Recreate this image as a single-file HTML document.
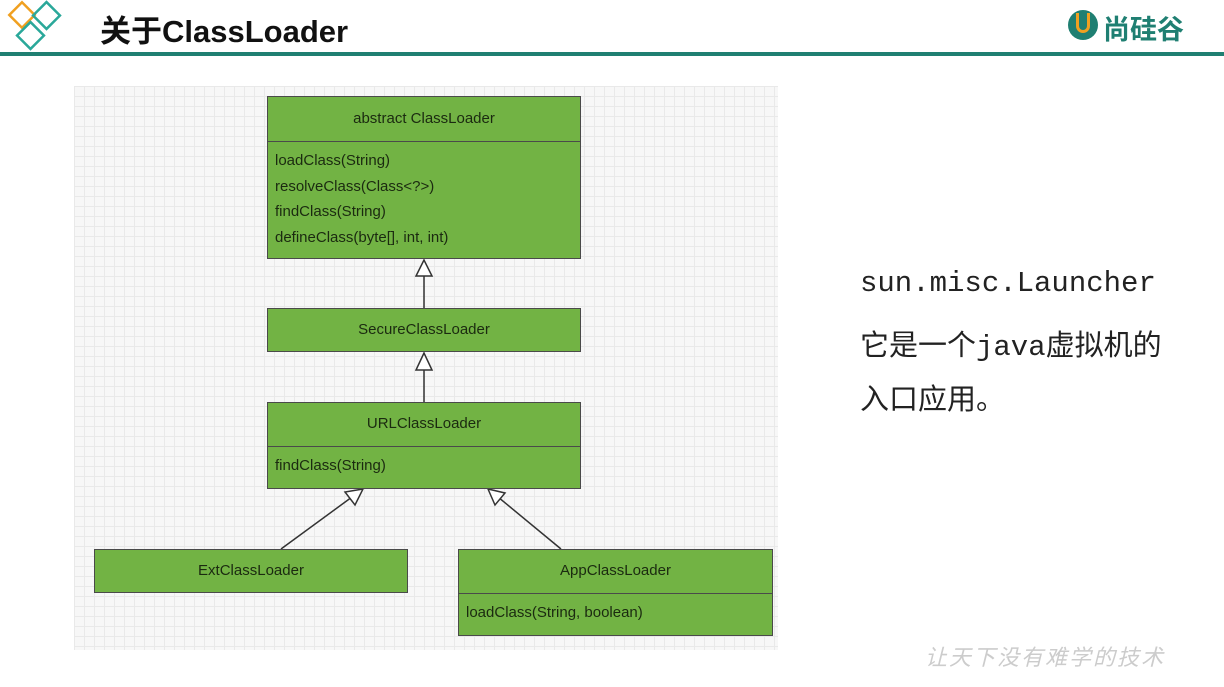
<!DOCTYPE html>
<html><head><meta charset="utf-8"><style>
body{margin:0;width:1224px;height:687px;background:#fff;position:relative;overflow:hidden;font-family:"Liberation Sans","Noto Sans CJK SC",sans-serif}
.t{position:absolute;left:100px;top:6px;font-size:31px;font-weight:bold;color:#111}
.hl{position:absolute;left:0;top:52px;width:1224px;height:4px;background:#1f7f72}
.grid{position:absolute;left:74px;top:86px;width:704px;height:564px;background-color:#f7f7f7;background-image:linear-gradient(#e9e9e9 1px,transparent 1px),linear-gradient(90deg,#e9e9e9 1px,transparent 1px);background-size:10px 10px}
.b{position:absolute;background:#72b344;border:1.5px solid #4a4a4a;box-sizing:border-box;font-size:15px;color:#1b2a10}
.h{text-align:center;border-bottom:1.5px solid #4a4a4a;box-sizing:border-box}
.m{padding:6px 7px;line-height:25.5px}
.r{position:absolute;left:860px;font-family:"Liberation Mono","Noto Sans CJK SC",monospace;font-size:29px;color:#222}
</style></head><body>
<svg style="position:absolute;left:0;top:0" width="70" height="56">
<rect x="13" y="6" width="18" height="18" transform="rotate(45 22 15)" fill="none" stroke="#f0a020" stroke-width="2.5"/>
<rect x="37" y="6" width="19" height="19" transform="rotate(45 46.5 15.5)" fill="none" stroke="#2aa89a" stroke-width="2.5"/>
<rect x="21" y="26" width="19" height="19" transform="rotate(45 30.5 35.5)" fill="none" stroke="#2aa89a" stroke-width="2.5"/>
</svg>
<div class="t">关于ClassLoader</div>
<div style="position:absolute;left:1068px;top:10px;width:30px;height:30px;border-radius:50%;background:#1f7f72"></div>
<div style="position:absolute;left:1076px;top:13px;width:14px;height:20px;border-radius:0 0 7px 7px;border:3px solid #f0a020;border-top:none;box-sizing:border-box"></div>
<div style="position:absolute;left:1103px;top:8px;font-size:27px;font-weight:bold;color:#1f7f72">尚硅谷</div>
<div class="hl"></div>
<div class="grid"></div>
<svg style="position:absolute;left:0;top:0" width="1224" height="687">
<g stroke="#333" stroke-width="1.5" fill="#fff">
<line x1="424" y1="276" x2="424" y2="308"/><polygon points="424,260 416,276 432,276"/>
<line x1="424" y1="370" x2="424" y2="402"/><polygon points="424,353 416,370 432,370"/>
<line x1="281" y1="549" x2="352" y2="497"/><polygon points="363,489 345,492 355,505"/>
<line x1="561" y1="549" x2="498" y2="497"/><polygon points="488,489 495,505 505,493"/>
</g></svg>
<div class="b" style="left:267px;top:96px;width:314px;height:163px"><div class="h" style="height:45px;line-height:43px">abstract ClassLoader</div><div class="m">loadClass(String)<br>resolveClass(Class&lt;?&gt;)<br>findClass(String)<br>defineClass(byte[], int, int)</div></div>
<div class="b h" style="left:267px;top:308px;width:314px;height:44px;line-height:41px">SecureClassLoader</div>
<div class="b" style="left:267px;top:402px;width:314px;height:87px"><div class="h" style="height:44px;line-height:42px">URLClassLoader</div><div class="m">findClass(String)</div></div>
<div class="b h" style="left:94px;top:549px;width:314px;height:44px;line-height:41px">ExtClassLoader</div>
<div class="b" style="left:458px;top:549px;width:315px;height:87px"><div class="h" style="height:44px;line-height:42px">AppClassLoader</div><div class="m">loadClass(String, boolean)</div></div>
<div class="r" style="top:267px">sun.misc.Launcher</div>
<div class="r" style="top:322px">它是一个java虚拟机的</div>
<div class="r" style="top:376px">入口应用。</div>
<div style="position:absolute;left:925px;top:640px;font-size:22px;color:#ccc;font-style:italic;letter-spacing:2px">让天下没有难学的技术</div>
</body></html>
